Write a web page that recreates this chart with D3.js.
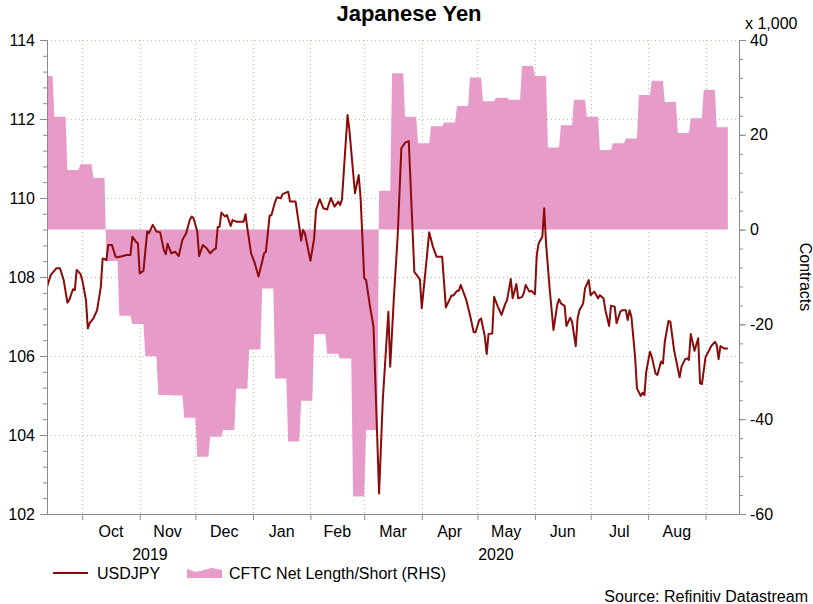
<!DOCTYPE html>
<html>
<head>
<meta charset="utf-8">
<script src="https://cdn.jsdelivr.net/npm/d3@7"></script>
<style>
  body { margin: 0; background: #fff; }
  svg text { font-family: "Liberation Sans", Arial, sans-serif; }
</style>
</head>
<body>
<div id="wrapper"></div>
<script>
// USDJPY (left axis)
const usdjpyDates = [
  '2019-09-12','2019-09-14','2019-09-17','2019-09-19','2019-09-21','2019-09-23','2019-09-24','2019-09-26','2019-09-27','2019-09-28',
  '2019-09-30','2019-10-01','2019-10-03','2019-10-04','2019-10-05','2019-10-07','2019-10-09','2019-10-11','2019-10-12','2019-10-14',
  '2019-10-15','2019-10-17','2019-10-19','2019-10-20','2019-10-23','2019-10-25','2019-10-27','2019-10-28','2019-10-30','2019-10-31',
  '2019-11-01','2019-11-03','2019-11-05','2019-11-06','2019-11-08','2019-11-10','2019-11-12','2019-11-14','2019-11-15','2019-11-16',
  '2019-11-18','2019-11-20','2019-11-22','2019-11-24','2019-11-26','2019-11-28','2019-11-29','2019-11-30','2019-12-02','2019-12-03',
  '2019-12-05','2019-12-07','2019-12-09','2019-12-11','2019-12-12','2019-12-13','2019-12-14','2019-12-15','2019-12-17','2019-12-18',
  '2019-12-20','2019-12-21','2019-12-23','2019-12-27','2019-12-28','2019-12-29','2019-12-31','2020-01-02','2020-01-04','2020-01-06',
  '2020-01-07','2020-01-08','2020-01-10','2020-01-11','2020-01-13','2020-01-14','2020-01-16','2020-01-17','2020-01-20','2020-01-21',
  '2020-01-24','2020-01-26','2020-01-27','2020-01-28','2020-01-29','2020-01-31','2020-02-01','2020-02-03','2020-02-04','2020-02-06',
  '2020-02-08','2020-02-10','2020-02-12','2020-02-14','2020-02-16','2020-02-17','2020-02-18','2020-02-21','2020-02-22','2020-02-25',
  '2020-02-27','2020-02-28','2020-03-01','2020-03-02','2020-03-04','2020-03-06','2020-03-09','2020-03-11','2020-03-14','2020-03-15',
  '2020-03-17','2020-03-19','2020-03-21','2020-03-23','2020-03-25','2020-03-28','2020-03-31','2020-04-01','2020-04-03','2020-04-05',
  '2020-04-07','2020-04-09','2020-04-12','2020-04-14','2020-04-17','2020-04-18','2020-04-20','2020-04-21','2020-04-22','2020-04-25',
  '2020-04-27','2020-04-29','2020-04-30','2020-05-02','2020-05-03','2020-05-05','2020-05-06','2020-05-07','2020-05-09','2020-05-10',
  '2020-05-12','2020-05-14','2020-05-16','2020-05-17','2020-05-19','2020-05-20','2020-05-22','2020-05-23','2020-05-25','2020-05-26',
  '2020-05-27','2020-05-29','2020-05-30','2020-06-01','2020-06-02','2020-06-03','2020-06-05','2020-06-06','2020-06-07','2020-06-09',
  '2020-06-11','2020-06-13','2020-06-14','2020-06-15','2020-06-17','2020-06-18','2020-06-20','2020-06-21','2020-06-23','2020-06-24',
  '2020-06-25','2020-06-27','2020-06-28','2020-06-30','2020-07-01','2020-07-03','2020-07-05','2020-07-06','2020-07-08','2020-07-09',
  '2020-07-11','2020-07-12','2020-07-14','2020-07-15','2020-07-17','2020-07-18','2020-07-20','2020-07-21','2020-07-22','2020-07-23',
  '2020-07-25','2020-07-26','2020-07-28','2020-07-29','2020-07-30','2020-07-31','2020-08-02','2020-08-03','2020-08-05','2020-08-06',
  '2020-08-08','2020-08-09','2020-08-10','2020-08-12','2020-08-13','2020-08-15','2020-08-18','2020-08-19','2020-08-21','2020-08-22',
  '2020-08-23','2020-08-24','2020-08-26','2020-08-28','2020-08-29','2020-08-30','2020-09-01','2020-09-03','2020-09-04','2020-09-06',
  '2020-09-07','2020-09-08','2020-09-09','2020-09-11','2020-09-13'
]
const usdjpyValues = [
  107.75,108.05,108.22,108.22,107.92,107.35,107.42,107.69,107.67,108.18,
  108.08,107.92,107.42,106.70,106.83,106.95,107.16,107.75,108.47,108.43,
  108.81,108.81,108.51,108.50,108.53,108.56,108.56,109.02,108.89,108.85,
  108.09,108.16,109.15,109.11,109.32,109.15,109.13,108.68,108.58,108.84,
  108.60,108.64,108.53,108.94,109.11,109.45,109.53,109.49,109.15,108.53,
  108.81,108.73,108.60,108.70,108.72,109.26,109.27,109.63,109.53,109.57,
  109.29,109.44,109.40,109.40,109.59,109.23,108.60,108.35,108.01,108.39,
  108.60,108.64,109.55,109.57,109.91,110.02,109.99,110.10,110.16,109.91,
  109.91,109.27,108.92,109.19,109.11,108.64,108.41,108.98,109.70,109.97,
  109.74,109.71,110.00,109.78,109.91,109.82,109.97,112.10,111.72,110.12,
  110.58,110.03,107.97,107.92,107.29,106.74,102.52,104.89,107.12,105.73,
  107.50,109.02,111.26,111.40,111.44,108.13,107.94,107.21,108.14,109.13,
  108.77,108.51,108.51,107.23,107.53,107.53,107.65,107.65,107.80,107.42,
  107.04,106.60,106.60,106.91,106.95,106.49,106.05,106.56,106.57,107.50,
  107.25,107.04,107.32,107.42,107.95,107.46,107.82,107.46,107.49,107.59,
  107.80,107.63,107.65,107.56,108.56,108.85,109.02,109.74,108.85,107.67,
  106.66,107.29,107.44,107.33,107.27,106.76,106.97,106.87,106.25,106.95,
  107.16,107.33,107.71,107.92,107.54,107.63,107.46,107.54,107.46,107.16,
  106.76,107.27,107.25,106.83,107.12,107.16,107.16,106.91,107.16,107.00,
  105.98,105.18,104.99,105.07,105.01,105.60,106.11,105.98,105.56,105.52,
  105.86,105.81,106.36,106.89,106.87,106.15,105.46,105.73,105.92,105.94,
  105.90,106.56,106.13,106.45,105.31,105.29,105.98,106.15,106.25,106.36,
  106.28,105.92,106.25,106.19,106.19
]

// CFTC net length/short, thousands of contracts (right axis), weekly
const cftcDates = [
  '2019-09-09','2019-09-16','2019-09-23','2019-09-30','2019-10-07','2019-10-14','2019-10-21','2019-10-28',
  '2019-11-04','2019-11-11','2019-11-18','2019-11-25','2019-12-02','2019-12-09','2019-12-16','2019-12-23','2019-12-30',
  '2020-01-06','2020-01-13','2020-01-20','2020-01-27','2020-02-03','2020-02-10','2020-02-17','2020-02-24',
  '2020-03-02','2020-03-09','2020-03-16','2020-03-23','2020-03-30','2020-04-06','2020-04-13','2020-04-20','2020-04-27',
  '2020-05-04','2020-05-11','2020-05-18','2020-05-25','2020-06-01','2020-06-08','2020-06-15','2020-06-22','2020-06-29',
  '2020-07-06','2020-07-13','2020-07-20','2020-07-27','2020-08-03','2020-08-10','2020-08-17','2020-08-24','2020-08-31',
  '2020-09-07'
]
const cftcValues = [
  32.4, 23.8, 12.6, 13.8, 10.9, -6.6, -18.2, -19.9,
  -26.7, -34.9, -35.0, -39.7, -47.9, -43.7, -42.3, -33.6, -25.3,
  -12.4, -31.4, -44.7, -36.1, -22.0, -26.2, -27.2, -56.3,
  -42.3, 8.2, 33.0, 23.8, 18.2, 21.8, 22.6, 26.1, 32.1,
  27.1, 27.8, 27.4, 34.5, 32.4, 17.3, 22.0, 27.4, 23.8,
  16.8, 18.2, 19.2, 28.4, 31.4, 26.9, 20.4, 23.5, 29.5,
  21.6
]
const cftcEndDate = '2020-09-13'

const xDomain = ['2019-09-12', '2020-09-19']
const monthTickDates = ['2019-10-01','2019-11-01','2019-12-01','2020-01-01','2020-02-01','2020-03-01',
  '2020-04-01','2020-05-01','2020-06-01','2020-07-01','2020-08-01','2020-09-01']
const monthLabels = ['Oct','Nov','Dec','Jan','Feb','Mar','Apr','May','Jun','Jul','Aug']
const yearLabels = ['2019', '2020']
const yearBreak = '2020-01-01'
const leftTicks = [102, 104, 106, 108, 110, 112, 114]
const rightTicks = [-60, -40, -20, 0, 20, 40]

const drawChart = () => {
  const parseDate = d3.timeParse('%Y-%m-%d')

  const dimensions = {
    width: 813,
    height: 604,
    margin: { top: 40, right: 74, bottom: 90, left: 47 }
  }
  dimensions.boundedWidth = dimensions.width - dimensions.margin.left - dimensions.margin.right
  dimensions.boundedHeight = dimensions.height - dimensions.margin.top - dimensions.margin.bottom

  const lineColor = '#8b0a0a'
  const areaColor = '#e69bc9'
  const axisColor = '#8a8a8a'
  const gridColor = '#a9cf9b'

  const wrapper = d3.select('#wrapper')
    .append('svg')
    .attr('width', dimensions.width)
    .attr('height', dimensions.height)
    .style('background-color', '#fff')

  const bounds = wrapper.append('g')
    .attr('transform', `translate(${dimensions.margin.left}, ${dimensions.margin.top})`)

  bounds.append('defs').append('clipPath').attr('id', 'plot-clip')
    .append('rect')
    .attr('width', dimensions.boundedWidth)
    .attr('height', dimensions.boundedHeight)

  const scaleX = d3.scaleTime()
    .domain(xDomain.map(parseDate))
    .range([0, dimensions.boundedWidth])

  const scaleYLeft = d3.scaleLinear()
    .domain([102, 114])
    .range([dimensions.boundedHeight, 0])

  const scaleYRight = d3.scaleLinear()
    .domain([-60, 40])
    .range([dimensions.boundedHeight, 0])

  // gridlines
  const grid = bounds.append('g')
    .attr('stroke', gridColor)
    .attr('stroke-width', 1)
    .attr('stroke-dasharray', '1,3')
  grid.selectAll('.hgrid')
    .data(leftTicks.slice(1))
    .join('line')
    .attr('x1', 0)
    .attr('x2', dimensions.boundedWidth)
    .attr('y1', d => Math.round(scaleYLeft(d)) + 0.5)
    .attr('y2', d => Math.round(scaleYLeft(d)) + 0.5)
  grid.selectAll('.vgrid')
    .data(monthTickDates.map(parseDate))
    .join('line')
    .attr('x1', d => Math.round(scaleX(d)) + 0.5)
    .attr('x2', d => Math.round(scaleX(d)) + 0.5)
    .attr('y1', 0)
    .attr('y2', dimensions.boundedHeight)

  // CFTC weekly values held for the week, with a one-day ramp to the next value
  const cftcStarts = cftcDates.map(parseDate)
  const cftcEnd = parseDate(cftcEndDate)
  const cftcPoints = []
  cftcStarts.forEach((start, i) => {
    const next = i < cftcStarts.length - 1 ? d3.timeDay.offset(cftcStarts[i + 1], -1) : cftcEnd
    cftcPoints.push({ date: start, value: cftcValues[i] })
    cftcPoints.push({ date: next, value: cftcValues[i] })
  })

  const areaGenerator = d3.area()
    .x(d => scaleX(d.date))
    .y0(scaleYRight(0))
    .y1(d => scaleYRight(d.value))

  bounds.append('path')
    .datum(cftcPoints)
    .attr('clip-path', 'url(#plot-clip)')
    .attr('d', areaGenerator)
    .attr('fill', areaColor)

  // USDJPY line
  const usdData = usdjpyDates.map((d, i) => ({ date: parseDate(d), value: usdjpyValues[i] }))
  const lineGenerator = d3.line()
    .x(d => scaleX(d.date))
    .y(d => scaleYLeft(d.value))

  bounds.append('path')
    .datum(usdData)
    .attr('clip-path', 'url(#plot-clip)')
    .attr('d', lineGenerator)
    .attr('fill', 'none')
    .attr('stroke', lineColor)
    .attr('stroke-width', 2)
    .attr('stroke-linejoin', 'round')

  // axes
  const styleAxis = (g) => {
    g.selectAll('path, line').attr('stroke', axisColor)
    g.selectAll('text')
      .attr('fill', '#000')
      .style('font-size', '16px')
      .style('font-family', '"Liberation Sans", Arial, sans-serif')
  }
  const plainNumber = d => String(d)

  const leftMinor = d3.axisLeft(scaleYLeft)
    .tickValues(d3.range(102, 114.01, 0.4))
    .tickSize(4)
    .tickSizeOuter(0)
    .tickFormat('')
  bounds.append('g').call(leftMinor).call(styleAxis)

  const leftAxis = d3.axisLeft(scaleYLeft)
    .tickValues(leftTicks)
    .tickSize(7)
    .tickSizeOuter(0)
    .tickPadding(5)
    .tickFormat(plainNumber)
  bounds.append('g').call(leftAxis).call(styleAxis)

  const rightMinor = d3.axisRight(scaleYRight)
    .tickValues(d3.range(-60, 40.01, 4))
    .tickSize(4)
    .tickSizeOuter(0)
    .tickFormat('')
  bounds.append('g')
    .attr('transform', `translate(${dimensions.boundedWidth}, 0)`)
    .call(rightMinor).call(styleAxis)

  const rightAxis = d3.axisRight(scaleYRight)
    .tickValues(rightTicks)
    .tickSize(7)
    .tickSizeOuter(0)
    .tickPadding(4)
    .tickFormat(plainNumber)
  bounds.append('g')
    .attr('transform', `translate(${dimensions.boundedWidth}, 0)`)
    .call(rightAxis).call(styleAxis)

  const bottomAxis = d3.axisBottom(scaleX)
    .tickValues(monthTickDates.map(parseDate))
    .tickSize(6)
    .tickSizeOuter(0)
    .tickFormat('')
  bounds.append('g')
    .attr('transform', `translate(0, ${dimensions.boundedHeight})`)
    .call(bottomAxis).call(styleAxis)

  // month and year labels
  const monthStarts = monthTickDates.map(parseDate)
  bounds.append('g').selectAll('text')
    .data(monthLabels)
    .join('text')
    .text(d => d)
    .attr('x', (d, i) => (scaleX(monthStarts[i]) + scaleX(monthStarts[i + 1])) / 2)
    .attr('y', dimensions.boundedHeight + 23)
    .style('font-size', '16px')
    .style('text-anchor', 'middle')

  const yearEdges = [parseDate(xDomain[0]), parseDate(yearBreak), parseDate(xDomain[1])]
  bounds.append('g').selectAll('text')
    .data(yearLabels)
    .join('text')
    .text(d => d)
    .attr('x', (d, i) => (scaleX(yearEdges[i]) + scaleX(yearEdges[i + 1])) / 2)
    .attr('y', dimensions.boundedHeight + 46)
    .style('font-size', '16px')
    .style('text-anchor', 'middle')

  // title and axis notes
  wrapper.append('text')
    .text('Japanese Yen')
    .attr('x', 409)
    .attr('y', 21)
    .style('font-size', '22px')
    .style('font-weight', 'bold')
    .style('text-anchor', 'middle')

  wrapper.append('text')
    .text('x 1,000')
    .attr('x', 745)
    .attr('y', 29)
    .style('font-size', '16px')

  wrapper.append('text')
    .text('Contracts')
    .attr('transform', 'translate(800, 277) rotate(90)')
    .style('font-size', '16px')
    .style('text-anchor', 'middle')

  // legend
  const legend = wrapper.append('g')
  legend.append('line')
    .attr('x1', 53).attr('x2', 88)
    .attr('y1', 573).attr('y2', 573)
    .attr('stroke', lineColor)
    .attr('stroke-width', 2)
  legend.append('text')
    .text('USDJPY')
    .attr('x', 97)
    .attr('y', 579)
    .style('font-size', '16px')
  legend.append('path')
    .attr('d', 'M187,578 L187,569 L196,572 L204,570 L212,568 L222,570 L222,578 Z')
    .attr('fill', areaColor)
  legend.append('text')
    .text('CFTC Net Length/Short (RHS)')
    .attr('x', 229)
    .attr('y', 579)
    .style('font-size', '16px')

  wrapper.append('text')
    .text('Source: Refinitiv Datastream')
    .attr('x', 808)
    .attr('y', 602)
    .style('font-size', '16px')
    .style('text-anchor', 'end')
}
drawChart()
</script>
</body>
</html>
